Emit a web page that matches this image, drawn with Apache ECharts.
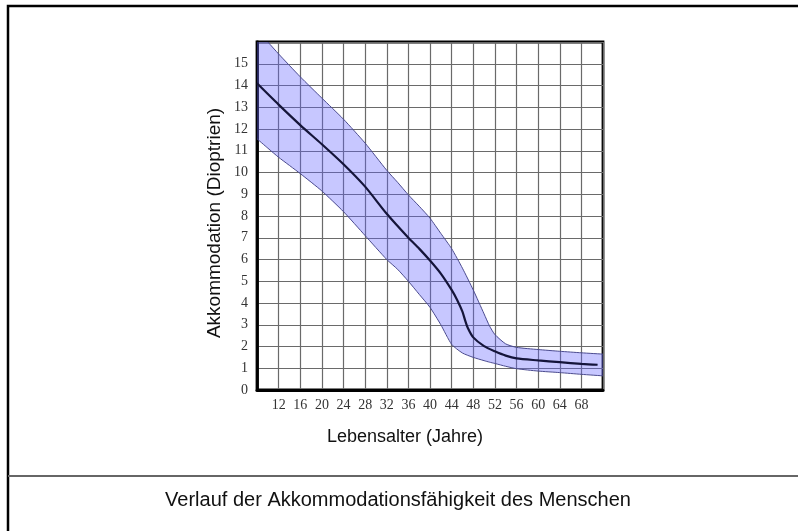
<!DOCTYPE html>
<html>
<head>
<meta charset="utf-8">
<script src="https://cdn.jsdelivr.net/npm/echarts@6/dist/echarts.min.js"></script>
<style>html,body{margin:0;padding:0;background:#fff}#c{width:798px;height:531px}</style>
</head>
<body>
<div id="c"></div>
<script>
// Mean accommodation curve
const meanAges = [8, 12, 16, 20, 24, 28, 32, 36, 38, 40, 42, 44, 45, 46, 46.5, 47, 48, 50, 52, 54, 56, 60, 64, 68, 71];
const meanVals = [14.1, 13.12, 12.18, 11.3, 10.38, 9.35, 8.1, 7.0, 6.5, 5.95, 5.35, 4.6, 4.15, 3.6, 3.2, 2.85, 2.42, 2.02, 1.78, 1.58, 1.45, 1.36, 1.28, 1.2, 1.16];
// Band (range) boundaries
const bandAges = [8, 10, 12, 16, 20, 24, 28, 32, 34, 36, 38, 40, 42, 44, 46, 48, 50, 51, 52, 54, 56, 60, 64, 68, 72];
const upperVals = [16.5, 16.0, 15.45, 14.4, 13.42, 12.45, 11.35, 10.1, 9.55, 8.97, 8.45, 7.9, 7.2, 6.5, 5.6, 4.6, 3.5, 2.95, 2.55, 2.12, 1.96, 1.86, 1.78, 1.71, 1.65];
const lowerVals = [11.55, 11.12, 10.7, 9.95, 9.15, 8.2, 7.1, 6.0, 5.55, 5.0, 4.4, 3.8, 3.0, 2.1, 1.7, 1.5, 1.35, 1.28, 1.22, 1.09, 0.98, 0.87, 0.8, 0.72, 0.65];
const xTicks = [12, 16, 20, 24, 28, 32, 36, 40, 44, 48, 52, 56, 60, 64, 68];
const yTicks = [0, 1, 2, 3, 4, 5, 6, 7, 8, 9, 10, 11, 12, 13, 14, 15];

const xName = 'Lebensalter (Jahre)';
const yName = 'Akkommodation (Dioptrien)';
const titleText = 'Verlauf der Akkommodationsfähigkeit des Menschen';

const chart = echarts.init(document.getElementById('c'), null, {renderer: 'canvas'});
const edge = '#4b4b8f';

function renderBand(params, api) {
  if (params.dataIndex !== 0) return null;
  const top = bandAges.map((a, i) => api.coord([a, upperVals[i]]));
  const bot = bandAges.map((a, i) => api.coord([a, lowerVals[i]]));
  const cs = params.coordSys;
  return {
    type: 'group',
    clipPath: {type: 'rect', shape: {x: cs.x, y: cs.y, width: cs.width, height: cs.height}},
    children: [
      {type: 'polygon', shape: {points: top.concat(bot.slice().reverse())}, style: {fill: 'rgba(100,100,255,0.36)', stroke: 'none'}},
      {type: 'polyline', shape: {points: top, smooth: 0.2}, style: {fill: 'none', stroke: edge, lineWidth: 1}},
      {type: 'polyline', shape: {points: bot, smooth: 0.2}, style: {fill: 'none', stroke: edge, lineWidth: 1}}
    ]
  };
}

const option = {
  animation: false,
  backgroundColor: '#fff',
  grid: {left: 257, right: 195, top: 42, bottom: 141, show: true, borderColor: '#000', borderWidth: 2.8, backgroundColor: 'transparent'},
  xAxis: {
    type: 'value', min: 8, max: 72, interval: 4,
    axisLine: {show: true, lineStyle: {color: '#000', width: 2.8}},
    axisTick: {show: false},
    splitLine: {show: true, lineStyle: {color: '#6a6a6a', width: 1.2}},
    axisLabel: {
      margin: 8, color: '#333', fontFamily: 'Liberation Serif', fontSize: 14,
      formatter: v => xTicks.includes(v) ? String(v) : ''
    }
  },
  yAxis: {
    type: 'value', min: 0, max: 16, interval: 1,
    name: yName, nameLocation: 'middle', nameGap: 33, nameRotate: 90,
    nameTextStyle: {fontFamily: 'Liberation Sans', fontSize: 19, color: '#111', padding: [0, 14, 0, 0]},
    axisLine: {show: true, lineStyle: {color: '#000', width: 2.8}},
    axisTick: {show: false},
    splitLine: {show: true, lineStyle: {color: '#6a6a6a', width: 1.2}},
    axisLabel: {
      margin: 9, color: '#333', fontFamily: 'Liberation Serif', fontSize: 14,
      formatter: v => yTicks.includes(v) ? String(v) : ''
    }
  },
  series: [
    {
      type: 'custom', renderItem: renderBand, z: 2,
      data: bandAges.map((a, i) => [a, lowerVals[i], upperVals[i]]),
      encode: {x: 0, y: [1, 2]}
    },
    {
      type: 'line', symbol: 'none', smooth: 0.25,
      data: meanAges.map((a, i) => [a, meanVals[i]]),
      lineStyle: {color: '#15153a', width: 2.2}, z: 3
    }
  ],
  graphic: [
    {type: 'rect', silent: true, shape: {x: 8, y: 6, width: 900, height: 900}, style: {fill: 'none', stroke: '#000', lineWidth: 2.5}},
    {type: 'line', silent: true, shape: {x1: 8, y1: 476, x2: 798, y2: 476}, style: {stroke: '#666', lineWidth: 2}},
    {type: 'text', silent: true, x: 405, y: 437, style: {text: xName, font: '18px "Liberation Sans"', fill: '#111', textAlign: 'center', textVerticalAlign: 'middle', align: 'center', verticalAlign: 'middle'}},
    {type: 'text', silent: true, x: 398, y: 500, style: {text: titleText, font: '20px "Liberation Sans"', fill: '#111', textAlign: 'center', textVerticalAlign: 'middle', align: 'center', verticalAlign: 'middle'}}
  ]
};
chart.setOption(option);
</script>
</body>
</html>
